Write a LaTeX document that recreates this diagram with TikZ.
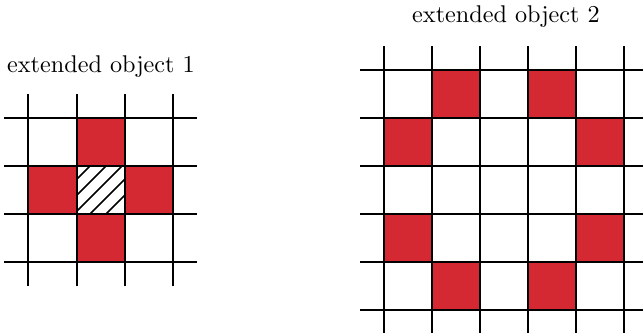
\documentclass[tikz,border=0pt]{standalone}
\usepackage{fontspec}
\setmainfont{lmroman10-regular.otf}
\definecolor{cellred}{RGB}{212,40,50}
\tikzset{
  gridline/.style={line width=1.4pt, black},
  redcell/.style={fill=cellred},
  hatchline/.style={line width=1.6pt, black},
  lbl/.style={font=\fontsize{24.2}{29}\selectfont, inner sep=0pt}
}
\begin{document}
\begin{tikzpicture}[x=1pt,y=-1pt]
\useasboundingbox (0,0) rectangle (643,333);
% left object
\foreach \c/\r in {77/118, 28/166, 125/166, 77/214}
  \fill[redcell] (\c,\r) rectangle ++(48,48);
\begin{scope}
  \clip (77,166) rectangle (125,214);
  \foreach \k in {256,272,288,304,320}
    \draw[hatchline] (\k-214,214) -- (\k-166,166);
\end{scope}
\foreach \x in {28,77,125,173}
  \draw[gridline] (\x,94) -- (\x,286);
\foreach \y in {118,166,214,262}
  \draw[gridline] (4,\y) -- (197,\y);
\node[lbl] (l1) at (101,67) {extended object 1};
% right object
\foreach \c/\r in {432/70, 528/70, 384/118, 576/118, 384/214, 576/214, 432/262, 528/262}
  \fill[redcell] (\c,\r) rectangle ++(48,48);
\foreach \x in {384,432,480,528,576,624}
  \draw[gridline] (\x,46) -- (\x,333);
\foreach \y in {70,118,166,214,262,310}
  \draw[gridline] (360,\y) -- (643,\y);
\node[lbl] (l2) at (506,17) {extended object 2};
\end{tikzpicture}
\end{document}
